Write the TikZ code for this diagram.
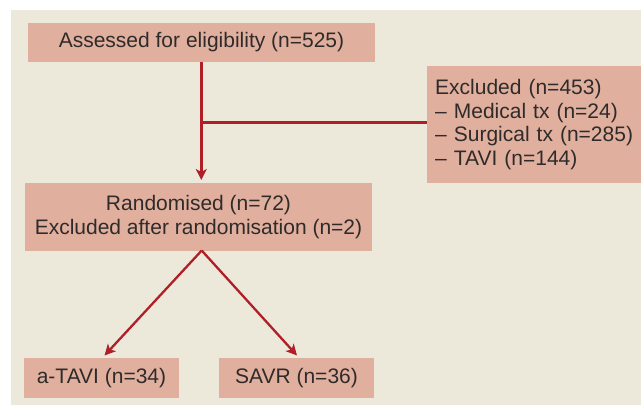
\documentclass[tikz,border=0pt]{standalone}
\usepackage{fontspec}
\setmainfont{Liberation Sans}
\usetikzlibrary{arrows.meta}
\definecolor{bgbeige}{HTML}{ECE9DA}
\definecolor{boxfill}{HTML}{E1AF9E}
\definecolor{linered}{HTML}{B01E28}
\definecolor{txtcol}{HTML}{2E2B2A}
\tikzset{
  box/.style={fill=boxfill, draw=none, inner sep=0pt, text=txtcol, font=\fontsize{21}{23.4}\selectfont, align=center},
  conn/.style={draw=linered, line width=2.7pt},
  arr/.style={draw=linered, line width=2.3pt, -{Stealth[length=11pt,width=11pt,inset=3pt]}},
}
\begin{document}
\begin{tikzpicture}[x=1pt,y=-1pt]
\useasboundingbox (0,0) rectangle (641,405);
\fill[white] (0,0) rectangle (641,405);
\fill[bgbeige] (10.5,10) rectangle (641,405);
\node[box, minimum width=347pt, minimum height=39pt] (assess) at (201.5,42.5) {Assessed for eligibility (n=525)};
\node[box, minimum width=214pt, minimum height=117pt, text width=198pt, inner xsep=8pt, align=left, anchor=west] (excl) at (427,124.5) {Excluded (n=453)\\– Medical tx (n=24)\\– Surgical tx (n=285)\\– TAVI (n=144)};
\node[box, minimum width=347pt, minimum height=67.5pt] (rand) at (198.5,217) {Randomised (n=72)\\Excluded after randomisation (n=2)};
\node[box, minimum width=155pt, minimum height=39.5pt] (atavi) at (101.5,378) {a-TAVI (n=34)};
\node[box, minimum width=155pt, minimum height=39.5pt] (savr) at (296.5,378) {SAVR (n=36)};
\coordinate (top) at (201.3,61.7);
\coordinate (junc) at (201.3,122.7);
\coordinate (bot) at (201.3,180);
\coordinate (split) at (201.7,250.5);
\coordinate (atip) at (104.5,355.5);
\coordinate (stip) at (297,355.5);
\draw[conn] (junc) -- (excl.west |- junc);
\draw[arr, line width=2.7pt] (top) -- (bot);
\draw[arr] (split) -- (atip);
\draw[arr] (split) -- (stip);
\end{tikzpicture}
\end{document}
